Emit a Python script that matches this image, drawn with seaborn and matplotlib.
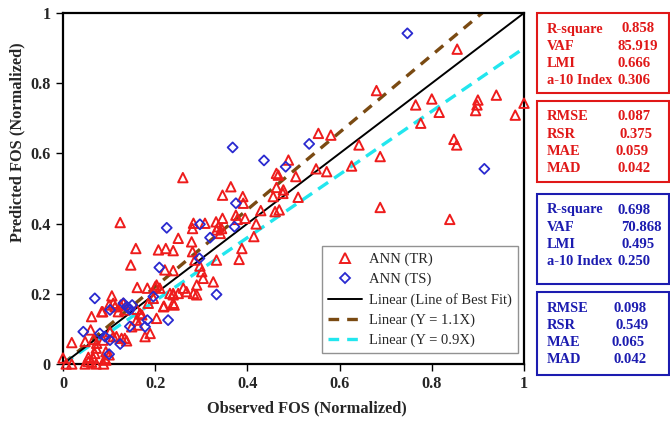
import numpy as np
import pandas as pd
import matplotlib
matplotlib.use("Agg")
import matplotlib.pyplot as plt
from matplotlib.patches import Rectangle
from matplotlib.lines import Line2D
import seaborn as sns

# ---- data: ANN training set (observed, predicted), normalized FOS ----
tr_obs = [0.855, 0.765, 0.800, 0.816, 0.776, 0.900, 0.898, 0.895, 0.940, 1.000,
          0.981, 0.848, 0.854, 0.839, 0.688, 0.688, 0.680, 0.554, 0.581, 0.642,
          0.489, 0.549, 0.572, 0.626, 0.463, 0.467, 0.505, 0.463, 0.478, 0.456,
          0.477, 0.510, 0.390, 0.391, 0.429, 0.460, 0.469, 0.395, 0.419, 0.364,
          0.346, 0.260, 0.124,
          0.283, 0.281, 0.308, 0.332, 0.337, 0.333, 0.344, 0.346, 0.375, 0.378,
          0.341, 0.414, 0.250, 0.279, 0.207, 0.223, 0.239, 0.388, 0.382, 0.281,
          0.286, 0.333, 0.221, 0.239, 0.297, 0.301, 0.304, 0.326, 0.290, 0.261,
          0.268, 0.283, 0.290, 0.239, 0.219, 0.241, 0.158, 0.147,
          0.161, 0.183, 0.200, 0.203, 0.210, 0.232, 0.250, 0.239, 0.106, 0.109,
          0.084, 0.113, 0.120, 0.131, 0.160, 0.171, 0.149, 0.163, 0.189, 0.178,
          0.203, 0.218, 0.239, 0.102, 0.109, 0.060, 0.048, 0.019, 0.066, 0.073,
          0.134, 0.138, 0.093, 0.069, 0.066, 0.055, 0.048, 0.072, 0.007, 0.019,
          0.093, 0.086, 0.100, 0.125, 0.134, 0.160, 0.167, 0.185, 0.196, 0.062,
          0.087, 0.116, 0.127, 0.072, 0.091, 0.100, 0.055, 0.000, 0.062, 0.088]
tr_pred = [0.897, 0.738, 0.755, 0.717, 0.686, 0.752, 0.738, 0.722, 0.766, 0.743,
           0.709, 0.640, 0.624, 0.412, 0.591, 0.446, 0.779, 0.657, 0.652, 0.624,
           0.581, 0.556, 0.548, 0.564, 0.543, 0.538, 0.534, 0.503, 0.496, 0.477,
           0.486, 0.475, 0.477, 0.458, 0.437, 0.434, 0.439, 0.415, 0.399, 0.505,
           0.481, 0.531, 0.403,
           0.401, 0.386, 0.401, 0.405, 0.391, 0.382, 0.386, 0.415, 0.424, 0.412,
           0.372, 0.363, 0.358, 0.348, 0.325, 0.329, 0.323, 0.329, 0.298, 0.320,
           0.296, 0.296, 0.268, 0.266, 0.279, 0.263, 0.244, 0.234, 0.225, 0.216,
           0.206, 0.201, 0.197, 0.201, 0.165, 0.168, 0.329, 0.282,
           0.218, 0.216, 0.220, 0.225, 0.216, 0.201, 0.201, 0.197, 0.194, 0.173,
           0.149, 0.163, 0.149, 0.173, 0.125, 0.140, 0.106, 0.111, 0.087, 0.078,
           0.130, 0.163, 0.173, 0.092, 0.078, 0.097, 0.064, 0.061, 0.070, 0.059,
           0.073, 0.066, 0.035, 0.030, 0.016, 0.007, 0.000, 0.000, 0.000, 0.000,
           0.011, 0.149, 0.168, 0.168, 0.154, 0.156, 0.144, 0.173, 0.187, 0.135,
           0.068, 0.078, 0.073, 0.045, 0.016, 0.026, 0.019, 0.017, 0.005, 0.000]

# ---- data: ANN testing set ----
ts_obs = [0.747, 0.914, 0.534, 0.436, 0.483, 0.368, 0.375, 0.225, 0.297, 0.372,
          0.319, 0.296, 0.209, 0.333, 0.196, 0.069, 0.102, 0.138, 0.142, 0.150,
          0.145, 0.131, 0.145, 0.178, 0.183, 0.228, 0.044, 0.080, 0.091, 0.102,
          0.124, 0.100]
ts_pred = [0.942, 0.556, 0.627, 0.580, 0.562, 0.617, 0.458, 0.388, 0.398, 0.391,
           0.360, 0.301, 0.275, 0.198, 0.192, 0.187, 0.154, 0.163, 0.160, 0.168,
           0.155, 0.173, 0.107, 0.106, 0.125, 0.125, 0.092, 0.087, 0.078, 0.068,
           0.057, 0.028]

# reference line slopes
slope_fit = 1.0
slope_upper = 1.1
slope_lower = 0.9

# performance indices
tr_stats_a = [("R-square", "0.858"), ("VAF", "85.919"), ("LMI", "0.666"), ("a-10 Index", "0.306")]
tr_stats_b = [("RMSE", "0.087"), ("RSR", "0.375"), ("MAE", "0.059"), ("MAD", "0.042")]
ts_stats_a = [("R-square", "0.698"), ("VAF", "70.868"), ("LMI", "0.495"), ("a-10 Index", "0.250")]
ts_stats_b = [("RMSE", "0.098"), ("RSR", "0.549"), ("MAE", "0.065"), ("MAD", "0.042")]

tr = pd.DataFrame({"obs": tr_obs, "pred": tr_pred})
ts = pd.DataFrame({"obs": ts_obs, "pred": ts_pred})

sns.set_theme(style="white")
plt.rcParams["font.family"] = ["Liberation Serif", "DejaVu Serif"]

W, H = 670, 421
fig = plt.figure(figsize=(W / 100, H / 100), dpi=100)
ax = fig.add_axes([63 / W, 1 - 364 / H, (524 - 63) / W, (364 - 13) / H])

RED = "#ee1c1c"
BLUE = "#2a2ad0"
BROWN = "#7a4a12"
CYAN = "#22e6ee"

xl = np.array([0.0, 1.0])
lines = pd.DataFrame({"x": xl, "fit": slope_fit * xl,
                      "up": slope_upper * xl, "lo": slope_lower * xl})

sns.lineplot(data=lines, x="x", y="up", ax=ax, color=BROWN, lw=2.4,
             zorder=2).lines[-1].set_dashes((3.2, 2.4))
sns.lineplot(data=lines, x="x", y="lo", ax=ax, color=CYAN, lw=2.4,
             zorder=2).lines[-1].set_dashes((3.6, 2.2))
sns.lineplot(data=lines, x="x", y="fit", ax=ax, color="black", lw=1.4, zorder=3)

sns.scatterplot(data=tr, x="obs", y="pred", ax=ax, marker="^", s=46,
                facecolors="none", edgecolors=RED, linewidth=1.4, zorder=4,
                clip_on=False)
sns.scatterplot(data=ts, x="obs", y="pred", ax=ax, marker="D", s=26,
                facecolors="none", edgecolors=BLUE, linewidth=1.3, zorder=5,
                clip_on=False)

ax.set_xlim(0, 1)
ax.set_ylim(0, 1)
ticks = [0, 0.2, 0.4, 0.6, 0.8, 1]
tick_labels = ["0", "0.2", "0.4", "0.6", "0.8", "1"]
ax.set_xticks(ticks, tick_labels)
ax.set_yticks(ticks, tick_labels)
ax.tick_params(axis="both", which="both", direction="out", length=5, width=1,
               color="black", labelsize=11.7, pad=4, bottom=True, left=True)
for lab in ax.get_xticklabels() + ax.get_yticklabels():
    lab.set_fontweight("bold")
for sp in ax.spines.values():
    sp.set_color("black")
    sp.set_linewidth(1.6)
ax.set_xlabel("Observed FOS (Normalized)", fontsize=11.8, fontweight="bold")
ax.set_ylabel("Predicted FOS (Normalized)", fontsize=11.8, fontweight="bold")
ax.xaxis.set_label_coords((307 - 63) / 461, -0.103)
ax.yaxis.set_label_coords(-0.082, (364 - 142) / 351)

handles = [
    Line2D([], [], ls="none", marker="^", ms=7, mfc="none", mec=RED, mew=1.4),
    Line2D([], [], ls="none", marker="D", ms=5, mfc="none", mec=BLUE, mew=1.3),
    Line2D([], [], color="black", lw=1.4),
    Line2D([], [], color=BROWN, lw=2.4, dashes=(3.2, 2.4)),
    Line2D([], [], color=CYAN, lw=2.4, dashes=(3.2, 2.4)),
]
labels = ["ANN (TR)", "ANN (TS)", "Linear (Line of Best Fit)",
          "Linear (Y = 1.1X)", "Linear (Y = 0.9X)"]
leg = ax.legend(handles, labels, loc="lower right", bbox_to_anchor=(0.988, 0.03),
                fontsize=10.5, frameon=True, fancybox=False, handlelength=2.3,
                labelspacing=0.45, borderpad=0.45, handletextpad=0.5,
                borderaxespad=0)
leg.get_frame().set_edgecolor("#777777")
leg.get_frame().set_linewidth(1.0)


def stat_box(top, bottom, rows, color, val_x):
    fig.add_artist(Rectangle((537 / W, 1 - bottom / H), (669 - 537) / W,
                             (bottom - top) / H, transform=fig.transFigure,
                             fill=False, edgecolor=color, lw=1.5))
    y0 = top + 16
    for i, (name, val) in enumerate(rows):
        y = 1 - (y0 + i * 17.2) / H
        fig.text(547 / W, y, name, color=color, fontsize=10.4, fontweight="bold",
                 va="center", ha="left")
        fig.text(val_x[i] / W, y, val, color=color, fontsize=10.6,
                 fontweight="bold", va="center", ha="left")


TXT_RED = "#e01818"
TXT_BLUE = "#1c1cb0"
stat_box(13, 93, tr_stats_a, TXT_RED, [621, 618, 617, 618])
stat_box(101, 182, tr_stats_b, TXT_RED, [617, 619, 616, 617])
stat_box(194, 284, ts_stats_a, TXT_BLUE, [618, 621, 621, 618])
stat_box(292, 375, ts_stats_b, TXT_BLUE, [613, 615, 612, 613])

fig.savefig("out.png", dpi=100)
